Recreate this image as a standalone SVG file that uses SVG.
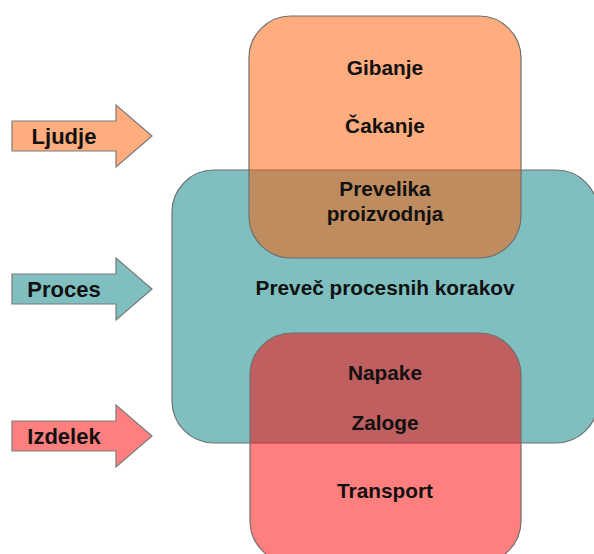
<svg xmlns="http://www.w3.org/2000/svg" width="594" height="554" viewBox="0 0 594 554">
  <style>
    .box { stroke: #6f6f6f; stroke-width: 1.2; }
    .arrow { stroke: #7a7a7a; stroke-width: 1.2; stroke-linejoin: miter; }
    .lbl { font-family: "Liberation Sans", Arial, sans-serif; font-weight: bold; font-size: 20.8px; fill: #111; text-anchor: middle; }
    .albl { font-family: "Liberation Sans", Arial, sans-serif; font-weight: bold; font-size: 22px; fill: #111; text-anchor: middle; }
  </style>

  <!-- process area (drawn first, the two categories overlap it) -->
  <g id="proces-area">
    <rect class="box" x="172" y="170" width="426" height="273" rx="42" ry="42" fill="#7fbfbf"/>
    <text class="lbl" x="385" y="295">Preveč procesnih korakov</text>
  </g>

  <!-- people category -->
  <g id="ljudje-area">
    <rect class="box" x="249" y="16" width="272" height="242" rx="42" ry="42" fill="#ff5a00" fill-opacity="0.5"/>
    <text class="lbl" x="385" y="75">Gibanje</text>
    <text class="lbl" x="385" y="133">Čakanje</text>
    <text class="lbl" x="385" y="196">Prevelika</text>
    <text class="lbl" x="385" y="221">proizvodnja</text>
  </g>

  <!-- product category -->
  <g id="izdelek-area">
    <rect class="box" x="250" y="333" width="271" height="230" rx="42" ry="42" fill="#ff0000" fill-opacity="0.5"/>
    <text class="lbl" x="385" y="380">Napake</text>
    <text class="lbl" x="385" y="430">Zaloge</text>
    <text class="lbl" x="385" y="498">Transport</text>
  </g>

  <!-- side block arrows -->
  <g id="ljudje-arrow">
    <path class="arrow" d="M12,121 H116 V105 L152,136 L116,167 V151 H12 Z" fill="#ffad7f"/>
    <text class="albl" x="64" y="144">Ljudje</text>
  </g>
  <g id="proces-arrow">
    <path class="arrow" d="M12,274 H116 V258 L152,289 L116,320 V304 H12 Z" fill="#7fbfbf"/>
    <text class="albl" x="64" y="297">Proces</text>
  </g>
  <g id="izdelek-arrow">
    <path class="arrow" d="M12,421 H116 V405 L152,436 L116,467 V451 H12 Z" fill="#ff7f7f"/>
    <text class="albl" x="64" y="444">Izdelek</text>
  </g>
</svg>
